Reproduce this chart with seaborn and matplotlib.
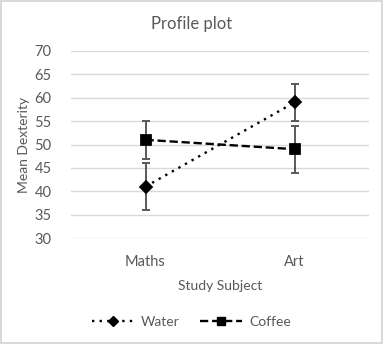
import matplotlib
matplotlib.use("Agg")
import matplotlib.pyplot as plt
import seaborn as sns
import pandas as pd
from matplotlib.lines import Line2D

subjects = ["Maths", "Art"]
water_mean = [41, 59]
water_err = [5, 4]
coffee_mean = [51, 49]
coffee_err = [4, 5]
y_ticks = [30, 35, 40, 45, 50, 55, 60, 65, 70]

sns.set_theme(style="white")
plt.rcParams["font.family"] = ["Lato", "DejaVu Sans"]

TXT = "#595959"
df = pd.DataFrame({
    "Study Subject": subjects * 2,
    "Mean Dexterity": water_mean + coffee_mean,
    "Drink": ["Water"] * 2 + ["Coffee"] * 2,
})

fig = plt.figure(figsize=(3.83, 3.44), dpi=100)
fig.patch.set_edgecolor("#d9d9d9")
fig.patch.set_linewidth(1.5)
ax = fig.add_axes([71/383, 1-238/344, 298/383, 187/344])

for i, s in enumerate(subjects):
    ax.errorbar(i, water_mean[i], yerr=water_err[i], fmt="none", ecolor=TXT,
                elinewidth=1.4, capsize=3, capthick=1.4, zorder=2)
    ax.errorbar(i, coffee_mean[i], yerr=coffee_err[i], fmt="none", ecolor=TXT,
                elinewidth=1.4, capsize=3, capthick=1.4, zorder=2)

DOT = (0, (1, 2.2))
DASH = (0, (3.5, 1.6))
sns.pointplot(data=df, x="Study Subject", y="Mean Dexterity", hue="Drink",
              order=subjects, hue_order=["Water", "Coffee"],
              palette=["black", "black"], markers=["D", "s"],
              linestyles=[DOT, DASH],
              errorbar=None, dodge=False, ax=ax, legend=False,
              linewidth=1.7, markersize=6.5)
for ln in ax.lines:
    ln.set_zorder(3)

ax.set_xlim(-0.5, 1.5)
ax.set_ylim(30, 70)
ax.set_yticks(y_ticks)
ax.yaxis.grid(True, color="#d9d9d9", linewidth=1)
ax.xaxis.grid(False)
ax.set_axisbelow(True)
for sp in ax.spines.values():
    sp.set_visible(False)
ax.tick_params(axis="both", length=0, labelsize=10.5, labelcolor=TXT)
ax.tick_params(axis="y", pad=14)
ax.tick_params(axis="x", pad=12)
ax.set_xlabel("Study Subject", fontsize=10, color=TXT, labelpad=8)
ax.set_ylabel("Mean Dexterity", fontsize=10, color=TXT, labelpad=3)
fig.text(0.5, 1-24/344, "Profile plot", ha="center", va="center",
         fontsize=12, color=TXT)

handles = [
    Line2D([], [], color="black", linestyle=DOT, linewidth=1.7,
           marker="D", markersize=5),
    Line2D([], [], color="black", linestyle=DASH, linewidth=1.7,
           marker="s", markersize=6),
]
fig.legend(handles, ["Water", "Coffee"], loc="center",
           bbox_to_anchor=(0.5, 1-322/344), ncol=2, frameon=False,
           fontsize=10, labelcolor=TXT, handlelength=3, columnspacing=1.5,
           handletextpad=0.5)

fig.savefig("out.png", dpi=100, edgecolor=fig.get_edgecolor())
